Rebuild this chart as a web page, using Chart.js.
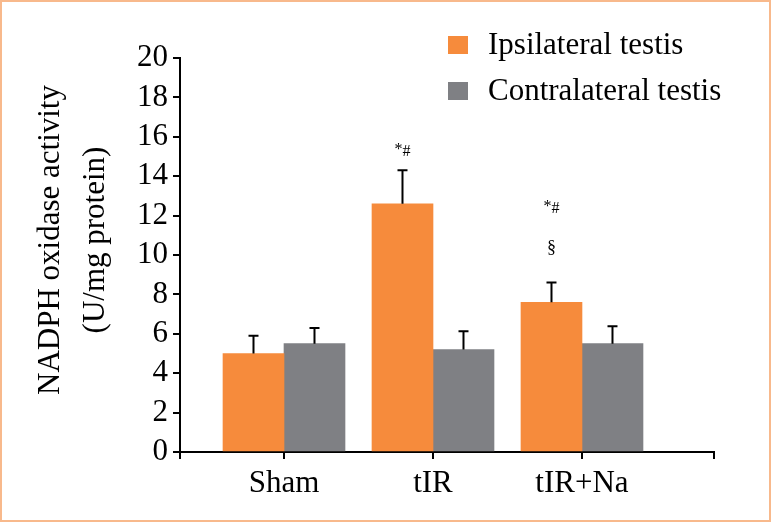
<!DOCTYPE html>
<html lang="en">
<head>
    <meta charset="UTF-8">
    <title>NADPH oxidase activity</title>
    <script src="https://cdn.jsdelivr.net/npm/chart.js@4.4.1/dist/chart.umd.min.js"></script>
    <style>
        body { margin: 0; background: #fff; }
        #frame {
            width: 771px;
            height: 522px;
            box-sizing: border-box;
            border: 2px solid #f8b98c;
        }
        canvas { display: block; }
    </style>
</head>
<body>
    <div id="frame">
        <canvas id="barChart" width="767" height="518"></canvas>
    </div>
    <script>
        const categories = ['Sham', 'tIR', 'tIR+Na'];
        const seriesNames = ['Ipsilateral testis', 'Contralateral testis'];
        const ipsiMeans = [5.0, 12.6, 7.6];
        const ipsiErrors = [0.9, 1.7, 1.0];
        const contraMeans = [5.5, 5.2, 5.5];
        const contraErrors = [0.8, 0.93, 0.88];
        const markTop = ['', '*#', '*#'];
        const markLow = ['', '', '§'];
        const yTitle = ['NADPH oxidase activity', '(U/mg protein)'];

        // the x axis runs a bit past the groups on both sides
        const xMin = -0.698;
        const xMax = 2.886;

        const orange = '#f68b3c';
        const grey = '#7f8084';
        const FONT = 'Liberation Serif';

        Chart.defaults.font.family = FONT;
        Chart.defaults.color = '#000';

        function points(arr) {
            return arr.map((v, i) => ({ x: i, y: v }));
        }

        // "*#" with the asterisk a little raised
        function drawMark(ctx, text, x, y) {
            ctx.font = '16px ' + FONT;
            const w = ctx.measureText(text).width;
            let cx = x - w / 2;
            ctx.textAlign = 'left';
            for (const ch of text) {
                ctx.fillText(ch, cx, ch === '*' ? y - 2 : y);
                cx += ctx.measureText(ch).width;
            }
        }

        // error bars (upper only) and significance marks
        const errorBars = {
            id: 'errorBars',
            afterDatasetsDraw(chart) {
                const ctx = chart.ctx;
                const y = chart.scales.y;
                ctx.save();
                ctx.strokeStyle = '#000';
                ctx.fillStyle = '#000';
                ctx.lineWidth = 2;
                ctx.textBaseline = 'middle';
                chart.data.datasets.forEach((ds, di) => {
                    const meta = chart.getDatasetMeta(di);
                    meta.data.forEach((bar, i) => {
                        const top = y.getPixelForValue(ds.means[i] + ds.errors[i]);
                        ctx.beginPath();
                        ctx.moveTo(bar.x, bar.y);
                        ctx.lineTo(bar.x, top);
                        ctx.moveTo(bar.x - 5, top);
                        ctx.lineTo(bar.x + 5, top);
                        ctx.stroke();
                        if (di === 0) {
                            if (markLow[i]) {
                                ctx.font = '18px ' + FONT;
                                ctx.textAlign = 'center';
                                ctx.fillText(markLow[i], bar.x, top - 34);
                                drawMark(ctx, markTop[i], bar.x, top - 74);
                            } else if (markTop[i]) {
                                drawMark(ctx, markTop[i], bar.x, top - 18);
                            }
                        }
                    });
                });
                ctx.restore();
            }
        };

        // x tick marks, legend block and two-line y title
        const extras = {
            id: 'extras',
            afterDraw(chart) {
                const ctx = chart.ctx;
                const x = chart.scales.x;
                ctx.save();
                ctx.strokeStyle = '#000';
                ctx.lineWidth = 2;
                ctx.beginPath();
                x.ticks.forEach(t => {
                    const px = Math.round(x.getPixelForValue(t.value));
                    ctx.moveTo(px, x.top);
                    ctx.lineTo(px, x.top + 7);
                });
                ctx.stroke();

                ctx.font = '31px ' + FONT;
                ctx.textBaseline = 'middle';
                chart.data.datasets.forEach((ds, i) => {
                    const cy = 43 + i * 46;
                    ctx.fillStyle = ds.backgroundColor;
                    ctx.fillRect(446, cy - 9, 20, 18);
                    ctx.fillStyle = '#000';
                    ctx.textAlign = 'left';
                    ctx.fillText(ds.label, 486, cy + 1);
                });
                ctx.translate(49, 238);
                ctx.rotate(-Math.PI / 2);
                ctx.textAlign = 'center';
                ctx.fillText(yTitle[0], 0, 0);
                ctx.fillText(yTitle[1], 0, 45);
                ctx.restore();
            }
        };

        new Chart(document.getElementById('barChart'), {
            type: 'bar',
            data: {
                datasets: [
                    {
                        label: seriesNames[0],
                        data: points(ipsiMeans),
                        means: ipsiMeans,
                        errors: ipsiErrors,
                        backgroundColor: orange
                    },
                    {
                        label: seriesNames[1],
                        data: points(contraMeans),
                        means: contraMeans,
                        errors: contraErrors,
                        backgroundColor: grey
                    }
                ]
            },
            options: {
                responsive: false,
                animation: false,
                barThickness: 61,
                layout: { padding: { top: 56, right: 55, left: 0, bottom: 0 } },
                plugins: {
                    legend: { display: false },
                    tooltip: { enabled: false }
                },
                scales: {
                    x: {
                        type: 'linear',
                        offset: false,
                        min: xMin,
                        max: xMax,
                        afterBuildTicks(scale) {
                            scale.ticks = [xMin].concat(categories.map((c, i) => i), [xMax])
                                .map(v => ({ value: v }));
                        },
                        afterFit(scale) { scale.height = 68; },
                        border: { display: true, color: '#000', width: 2 },
                        grid: {
                            offset: false,
                            drawOnChartArea: false,
                            color: '#000',
                            lineWidth: 2,
                            tickLength: 7
                        },
                        ticks: {
                            autoSkip: false,
                            maxRotation: 0,
                            padding: 6,
                            font: { size: 31 },
                            callback: v => Number.isInteger(v) ? categories[v] : ''
                        }
                    },
                    y: {
                        min: 0,
                        max: 20,
                        afterFit(scale) { scale.width = 178; },
                        border: { display: true, color: '#000', width: 2 },
                        grid: {
                            drawOnChartArea: false,
                            color: '#000',
                            lineWidth: 2,
                            tickLength: 7
                        },
                        ticks: {
                            stepSize: 2,
                            autoSkip: false,
                            padding: 5,
                            font: { size: 31 }
                        }
                    }
                }
            },
            plugins: [errorBars, extras]
        });
    </script>
</body>
</html>
